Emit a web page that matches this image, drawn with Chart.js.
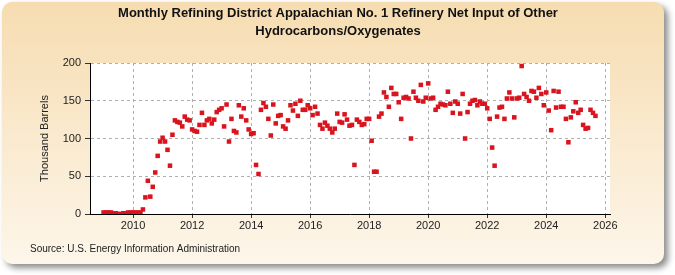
<!DOCTYPE html>
<html>
<head>
<meta charset="utf-8">
<script src="https://cdn.jsdelivr.net/npm/chart.js@4.4.1/dist/chart.umd.min.js"></script>
<style>
  html, body { margin: 0; padding: 0; background: #fff; }
</style>
</head>
<body>
<canvas id="chart" width="675" height="275"></canvas>
<script>
const chartTitle = ['Monthly Refining District Appalachian No. 1 Refinery Net Input of Other', 'Hydrocarbons/Oxygenates'];
const yAxisTitle = 'Thousand Barrels';
const sourceNote = 'Source: U.S. Energy Information Administration';

// monthly values, thousand barrels, starting Jan 2009
const firstYear = 2009;
const netInput = [
  2, 2, 2, 2, 1, 1, 0, 0, 1, 1, 2, 2,
  2, 2, 2, 2, 6, 22, 44, 23, 36, 55, 77, 96,
  101, 96, 85, 64, 105, 124, 122, 121, 116, 129, 125, 124,
  112, 110, 109, 118, 134, 118, 124, 126, 120, 125, 135, 138,
  140, 116, 145, 96, 126, 110, 108, 144, 129, 140, 124, 112,
  106, 107, 65, 53, 138, 147, 142, 126, 104, 145, 120, 130,
  131, 116, 113, 124, 144, 137, 146, 130, 150, 138, 138, 144,
  140, 131, 142, 133, 118, 113, 121, 117, 113, 108, 113, 133,
  122, 121, 132, 125, 117, 118, 65, 125, 122, 118, 119, 126,
  126, 97, 56, 56, 129, 133, 161, 155, 142, 167, 159, 159,
  148, 126, 154, 155, 153, 100, 162, 154, 150, 171, 149, 154,
  173, 153, 154, 138, 142, 146, 145, 144, 162, 146, 134, 149,
  146, 133, 159, 100, 135, 146, 150, 151, 144, 149, 146, 146,
  140, 126, 88, 64, 129, 141, 142, 126, 153, 161, 153, 128,
  153, 154, 196, 159, 155, 150, 163, 162, 154, 167, 159, 144,
  161, 137, 111, 163, 141, 162, 142, 142, 126, 95, 128, 136,
  148, 134, 138, 118, 113, 114, 138, 134, 130
];
const xTicks = [2010, 2012, 2014, 2016, 2018, 2020, 2022, 2024, 2026];
const yTicks = [0, 50, 100, 150, 200];

const points = netInput.map((v, i) => ({ x: firstYear + i / 12, y: v }));

// beige rounded panel with drop shadow, white plot area
const panel = {
  id: 'panel',
  beforeDraw(chart) {
    const { ctx, chartArea } = chart;
    ctx.save();
    ctx.fillStyle = '#fff';
    ctx.fillRect(0, 0, chart.width, chart.height);

    ctx.shadowColor = 'rgba(0,0,0,0.45)';
    ctx.shadowBlur = 6;
    ctx.shadowOffsetX = 4;
    ctx.shadowOffsetY = 4;
    const grad = ctx.createLinearGradient(0, 0, 0, 265);
    grad.addColorStop(0, '#f6dcb0');
    grad.addColorStop(1, '#fdf6ea');
    ctx.fillStyle = grad;
    ctx.beginPath();
    ctx.roundRect(2, 2, 662, 262, 10);
    ctx.fill();
    ctx.restore();

    ctx.save();
    ctx.fillStyle = '#fff';
    ctx.fillRect(chartArea.left, chartArea.top, chartArea.right - chartArea.left, chartArea.bottom - chartArea.top);
    ctx.restore();
  },
  afterDraw(chart) {
    const { ctx } = chart;
    ctx.save();
    ctx.fillStyle = '#111';
    ctx.textAlign = 'center';
    ctx.textBaseline = 'middle';
    ctx.font = 'bold 13px "Liberation Sans Narrow", "Liberation Sans", Arial, sans-serif';
    ctx.fillText(chartTitle[0], 338, 13);
    ctx.fillText(chartTitle[1], 338, 31);
    ctx.textAlign = 'left';
    ctx.font = '10px "Liberation Sans Narrow", "Liberation Sans", Arial, sans-serif';
    ctx.fillStyle = '#222';
    ctx.fillText(sourceNote, 30, 249);
    ctx.restore();
  }
};

new Chart(document.getElementById('chart'), {
  type: 'scatter',
  data: {
    datasets: [{
      data: points,
      pointStyle: 'rect',
      pointRadius: 3.2,
      pointBorderWidth: 0,
      backgroundColor: 'rgb(218, 20, 30)',
      borderColor: 'rgb(218, 20, 30)'
    }]
  },
  options: {
    responsive: false,
    animation: false,
    layout: { padding: { left: 0, top: 63, right: 65, bottom: 39 } },
    plugins: {
      legend: { display: false },
      tooltip: { enabled: false }
    },
    scales: {
      x: {
        type: 'linear',
        min: 2008.54,
        max: 2026.16,
        afterFit: (s) => { s.height = 22; },
        afterBuildTicks: (s) => { s.ticks = xTicks.map((v) => ({ value: v })); },
        grid: { color: '#b0b0b0', tickColor: '#333', tickLength: 4 },
        border: { display: true, color: '#000', width: 1, dash: [3, 3] },
        ticks: {
          padding: 1,
          color: '#222',
          font: { family: '"Liberation Sans", Arial, sans-serif', size: 11 },
          callback: (v) => String(v)
        }
      },
      y: {
        min: 0,
        max: 200,
        afterFit: (s) => { s.width = 90; },
        afterBuildTicks: (s) => { s.ticks = yTicks.map((v) => ({ value: v })); },
        grid: { color: '#b0b0b0', tickColor: '#333', tickLength: 5 },
        border: { display: true, color: '#000', width: 1, dash: [3, 3] },
        ticks: {
          padding: 4,
          color: '#222',
          font: { family: '"Liberation Sans", Arial, sans-serif', size: 11 }
        },
        title: {
          display: true,
          text: yAxisTitle,
          color: '#222',
          padding: { top: 38, bottom: 0 },
          font: { family: '"Liberation Sans", Arial, sans-serif', size: 11 }
        }
      }
    }
  },
  plugins: [panel]
});
</script>
</body>
</html>
